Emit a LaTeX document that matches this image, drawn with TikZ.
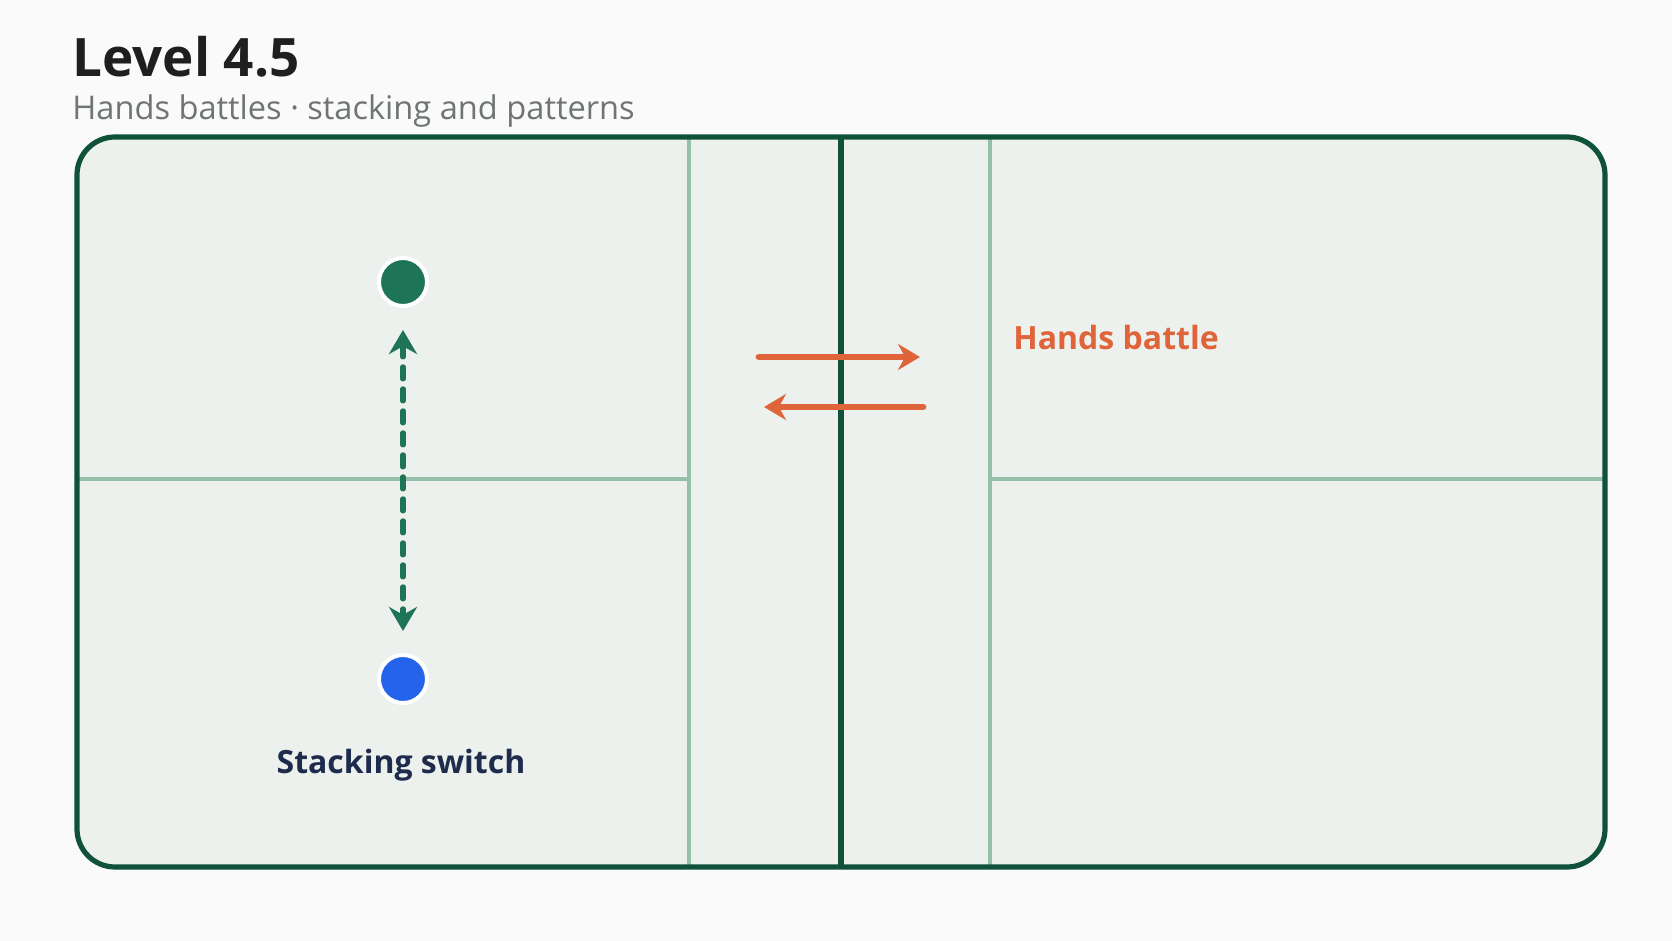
\documentclass[tikz,border=0pt]{standalone}
\usepackage{fontspec}
\setmainfont{Open Sans}
\usetikzlibrary{arrows.meta}

\definecolor{pagebg}{HTML}{FAFAFA}
\definecolor{courtfill}{HTML}{EDF1EE}
\definecolor{courtline}{HTML}{0F5239}
\definecolor{softline}{HTML}{94BFA9}
\definecolor{teamgreen}{HTML}{1E7456}
\definecolor{teamblue}{HTML}{2563EB}
\definecolor{battle}{HTML}{E0643A}
\definecolor{navy}{HTML}{1E2B4D}
\definecolor{subgrey}{HTML}{6F7570}

\tikzset{
  player/.style={circle,draw=white,line width=2pt,minimum size=24pt,inner sep=0pt},
  swap/.style={teamgreen,line width=2.6pt,dash pattern=on 6pt off 5pt,line cap=round,
    {Stealth[length=12pt,width=14pt]}-{Stealth[length=12pt,width=14pt]},shorten <=11pt,shorten >=11pt},
  hit/.style={battle,line width=3.4pt,line cap=round,-{Stealth[length=11pt,width=13pt]}}
}

\newcommand{\court}{
  \fill[courtfill,rounded corners=19pt] (77,137) rectangle (1605,867);

  % service lines and center line
  \draw[softline,line width=1.6pt] (689,137) -- (689,867);
  \draw[softline,line width=1.6pt] (990,137) -- (990,867);
  \draw[softline,line width=1.6pt] (77,479) -- (689,479);
  \draw[softline,line width=1.6pt] (990,479) -- (1605,479);
  \draw[courtline,line width=2.6pt] (841,137) -- (841,867);

  \draw[courtline,line width=2.6pt,rounded corners=19pt] (77,137) rectangle (1605,867);
}

\begin{document}
\begin{tikzpicture}[x=0.5pt,y=-0.5pt]
      \fill[pagebg] (0,0) rectangle (1672,941);
      \useasboundingbox (0,0) rectangle (1672,941);

      \node [anchor=base west,inner sep=0pt,font=\fontsize{26.5}{30}\selectfont\bfseries,text=black!88] (title) at (72,77) {Level 4.5};
      \node [anchor=base west,inner sep=0pt,font=\fontsize{16.3}{19}\selectfont,text=subgrey] (subtitle) at (72,120) {Hands battles · stacking and patterns};

      \court

      \node [player,fill=teamgreen] (front) at (403,282) {};
      \node [player,fill=teamblue] (back) at (403,679) {};
      \draw [swap] (front) -- (back);

      \node [anchor=center,inner sep=0pt,font=\fontsize{16}{19}\selectfont\bfseries,text=navy] (stacklbl) at (401,765) {Stacking switch};

      \coordinate (h1) at (759,357);
      \coordinate (h2) at (920,357);
      \coordinate (h3) at (923,407);
      \coordinate (h4) at (764,407);
      \draw [hit] (h1) -- (h2);
      \draw [hit] (h3) -- (h4);

      \node [anchor=west,inner sep=0pt,font=\fontsize{16}{19}\selectfont\bfseries,text=battle] (battlelbl) at (1013,338) {Hands battle};
\end{tikzpicture}
\end{document}
